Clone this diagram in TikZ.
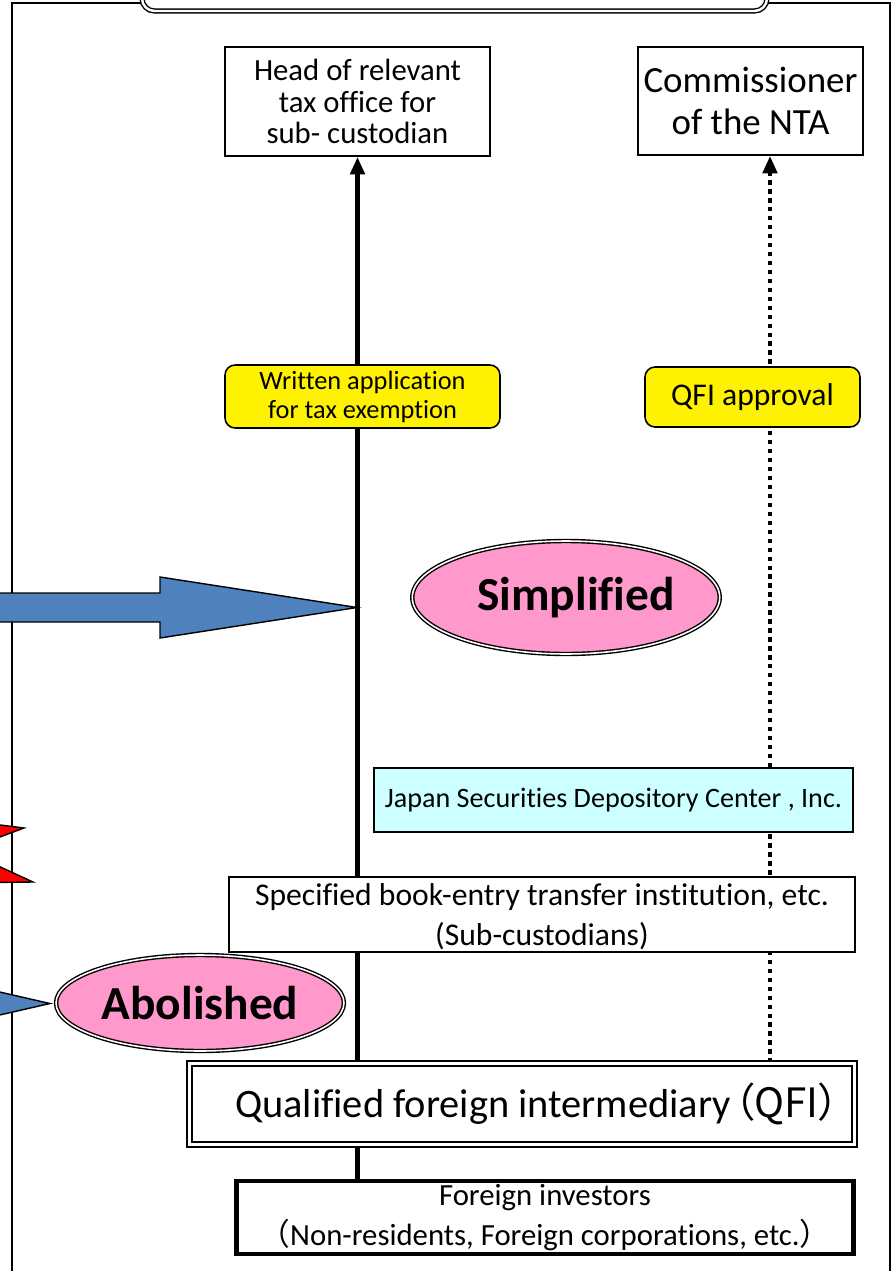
\documentclass[tikz,border=0pt]{standalone}
\usepackage{fontspec}
\setmainfont[RawFeature={-liga,-clig,-dlig}]{Carlito}
\newfontfamily\jpfont[RawFeature=+palt]{Noto Sans CJK JP}
\newfontfamily\jpwide{Noto Sans CJK JP}
\usetikzlibrary{arrows.meta,shapes.geometric,backgrounds}

\definecolor{arrowblue}{HTML}{4F81BD}
\definecolor{notepink}{HTML}{FF99CC}
\definecolor{jasdecyan}{HTML}{CCFFFF}

\begin{document}
\begin{tikzpicture}[x=0.02cm,y=-0.02cm,
    plainbox/.style={draw, line width=0.9pt, fill=white, align=center, inner sep=0pt},
    notebox/.style={draw, line width=0.9pt, fill=yellow, rounded corners=0.2cm, align=center, inner sep=0pt},
    oval/.style={ellipse, draw, line width=0.8pt, double=white, double distance=0.9pt, fill=notepink, inner sep=0pt, font=\fontsize{27}{30}\selectfont\bfseries},
    flow/.style={line width=2.8pt, -{Triangle[length=10pt,width=8pt]}},
    dotflow/.style={line width=2.7pt, dash pattern=on 2.5pt off 2.6pt, -{Triangle[length=10pt,width=8pt]}},
    shaft/.style={draw, line width=0.8pt}]
    \useasboundingbox (0,0) rectangle (893,1271);
    \clip (0,0) rectangle (893,1271);

    % outer frame and the title box (cut off at the top)
    \draw[line width=1.2pt] (12,1300) -- (12,3) -- (890,3) -- (890,1300);
    \draw[line width=0.8pt, double, double distance=1.4pt, fill=white, rounded corners=0.25cm] (142,-40) rectangle (767,11);

    % authorities
    \node[plainbox, minimum width=5.3cm, minimum height=2.18cm, font=\fontsize{17.5}{17.8}\selectfont] (head) at (357.5,101.5) {Head of relevant\\tax office for\\sub- custodian};
    \node[plainbox, minimum width=4.5cm, minimum height=2.16cm, font=\fontsize{21}{24}\selectfont] (nta) at (750.5,101) {Commissioner\\of the NTA};

    % documents
    \node[notebox, minimum width=5.5cm, minimum height=1.26cm, font=\fontsize{15}{16.5}\selectfont] (appl) at (362.5,396.5) {Written application\\for tax exemption};
    \node[notebox, minimum width=4.3cm, minimum height=1.2cm, font=\fontsize{18}{20}\selectfont] (approval) at (752.5,397) {QFI approval};

    % changes
    \node[oval, minimum width=5.96cm, minimum height=2.26cm] (simpl) at (566,597.5) {\hspace*{0.4cm}Simplified};
    \node[oval, minimum width=5.76cm, minimum height=1.92cm] (abol) at (200,1003) {Abolished};

    % institutions
    \node[plainbox, fill=jasdecyan, minimum width=9.58cm, minimum height=1.28cm, font=\fontsize{16}{18}\selectfont] (jasdec) at (613.5,800) {Japan Securities Depository Center , Inc.};
    \node[plainbox, minimum width=12.52cm, minimum height=1.5cm, font=\fontsize{18}{22.8}\selectfont] (subcust) at (542,914.5) {\rule{0pt}{15pt}Specified book-entry transfer institution, etc.\\(Sub-custodians)};
    \node[plainbox, double, double distance=1.7pt, minimum width=13.3cm, minimum height=1.62cm, font=\fontsize{23}{26}\selectfont] (qfi) at (522,1104) {\hspace*{0.6cm}Qualified foreign intermediary\hspace{2pt}{\jpfont （QFI）}};
    \node[plainbox, line width=2.8pt, minimum width=12.35cm, minimum height=1.46cm, font=\fontsize{17.5}{22.8}\selectfont] (investors) at (545,1217.5) {Foreign investors\\{\jpwide （}Non-residents, Foreign corporations, etc.{\jpwide ）}};

    % flows behind the boxes
    \coordinate (ntafoot) at ([xshift=0.39cm]nta.south);
    \begin{scope}[on background layer]
        \draw[flow] (qfi.north -| head.south) -- (head.south);
        \draw[line width=2.8pt] (qfi.south -| head.south) -- (investors.north -| head.south);
        \draw[dotflow] (qfi.north -| ntafoot) -- (ntafoot);
    \end{scope}

    % block arrows coming in from the left
    \coordinate (bigtip) at (357,607.5);
    \coordinate (smalltip) at (50,1003.5);
    \draw[shaft, fill=arrowblue] (-10,593) -- (160,593) -- (160,577) -- (bigtip) -- (160,638) -- (160,622) -- (-10,622) -- cycle;
    \draw[shaft, fill=arrowblue] (-20,987.5) -- (smalltip) -- (-20,1019.5) -- cycle;
    \draw[shaft, fill=red] (-10,823.7) -- (24,828) -- (-10,840.7) -- cycle;
    \draw[shaft, fill=red] (-10,862.2) -- (33,882) -- (-10,882.5) -- cycle;
\end{tikzpicture}
\end{document}
